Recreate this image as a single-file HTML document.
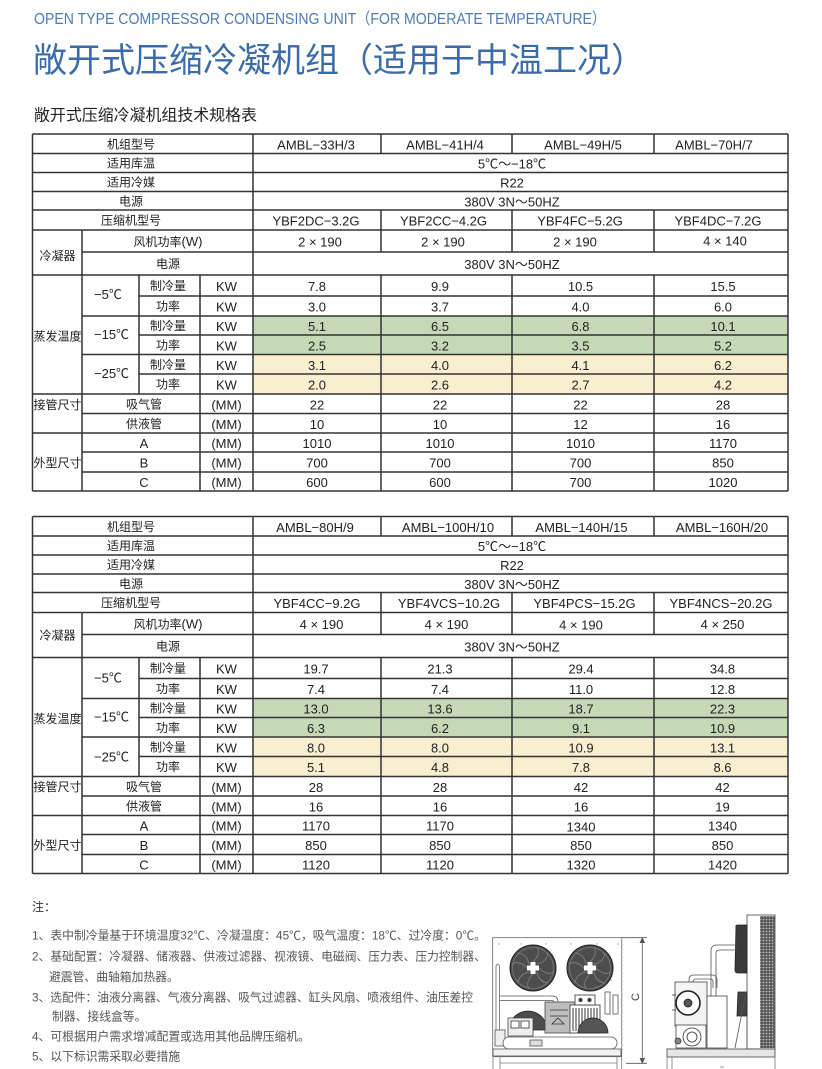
<!DOCTYPE html>
<html><head><meta charset="utf-8">
<style>
html,body{margin:0;padding:0;background:#fff;}
svg{display:block;}
text{font-family:"Liberation Sans","Noto Sans CJK SC",sans-serif;}
.l{font-size:13px;fill:#222;text-anchor:middle;}
.c{font-size:12px;fill:#222;text-anchor:middle;}
.s{font-size:13px;fill:#222;}
.n{font-size:11.8px;fill:#555;}
</style></head><body>
<svg width="822" height="1069" viewBox="0 0 822 1069" xmlns="http://www.w3.org/2000/svg">
<defs>
<g id="grid">
<rect x="253" y="316" width="535" height="38.5" fill="#c5d9b6"/>
<rect x="253" y="354.5" width="535" height="39.5" fill="#f8eed0"/>
<g stroke="#333" stroke-width="1.5" fill="none">
<path d="M32.5 134H788M32.5 153.5H788M32.5 172.5H788M32.5 191.5H788M32.5 210H788M32.5 230H788M82 252H788M32.5 275H788M139 296H788M82 316H788M139 335H788M82 354.5H788M139 374H788M32.5 394H788M82 413.5H788M32.5 433H788M82 452H788M82 472H788M32.5 491H788"/>
<path d="M32.5 134V491M82 230V491M139 275V394M200 275V491M253 134V491M788 134V491"/>
<path d="M381 134V153.5M381 210V252M381 275V491M512 134V153.5M512 210V252M512 275V491M654 134V153.5M654 210V252M654 275V491"/>
</g>
</g>
<pattern id="hx" width="3" height="3" patternUnits="userSpaceOnUse"><rect width="3" height="3" fill="#555"/><circle cx="1.5" cy="1.5" r="0.9" fill="#bbb"/></pattern>
<g id="fan">
<circle r="23" fill="#4d4d4d" stroke="#222" stroke-width="1"/>
<circle r="20.5" fill="none" stroke="#888" stroke-width="0.6"/>
<path d="M0 -6Q8 -14 4 -21M6 0Q14 8 21 4M0 6Q-8 14 -4 21M-6 0Q-14 -8 -21 -4M4 -4Q14 -6 15 -15M4 4Q6 14 15 15M-4 4Q-14 6 -15 15M-4 -4Q-6 -14 -15 -15" stroke="#8a8a8a" stroke-width="0.7" fill="none"/>
<path d="M-2.5 -6h5v3.5h3.5v5h-3.5v3.5h-5v-3.5h-3.5v-5h3.5z" fill="#fff"/>
</g>
</defs>
<rect width="822" height="1069" fill="#fff"/>

<text x="34" y="24" font-size="16" fill="#4d7cb5" textLength="572" lengthAdjust="spacingAndGlyphs">OPEN TYPE COMPRESSOR CONDENSING UNIT（FOR MODERATE TEMPERATURE）</text>
<text x="33" y="72" font-size="34" fill="#3b6ca8" textLength="612" lengthAdjust="spacingAndGlyphs">敞开式压缩冷凝机组（适用于中温工况）</text>
<text x="34" y="120.5" font-size="16" fill="#222" textLength="223" lengthAdjust="spacingAndGlyphs">敞开式压缩冷凝机组技术规格表</text>

<!-- TABLE 1 -->
<use href="#grid"/>
<g>
<text class="c" x="131" y="148.5">机组型号</text>
<text class="l" x="316" y="149.5">AMBL−33H/3</text>
<text class="l" x="445" y="149.5">AMBL−41H/4</text>
<text class="l" x="583" y="149.5">AMBL−49H/5</text>
<text class="l" x="714" y="149.5">AMBL−70H/7</text>
<text class="c" x="131" y="167.5">适用库温</text>
<text class="l" x="512" y="168.5">5℃～−18℃</text>
<text class="c" x="131" y="186.5">适用冷媒</text>
<text class="l" x="512" y="187.5">R22</text>
<text class="c" x="131" y="205.5">电源</text>
<text class="l" x="512" y="206.5">380V 3N～50HZ</text>
<text class="c" x="131" y="224.5">压缩机型号</text>
<text class="l" x="316" y="225.5">YBF2DC−3.2G</text>
<text class="l" x="443.5" y="225.5">YBF2CC−4.2G</text>
<text class="l" x="580" y="225.5">YBF4FC−5.2G</text>
<text class="l" x="718" y="225.5">YBF4DC−7.2G</text>
<text class="c" x="57.5" y="260">冷凝器</text>
<text class="c" x="168" y="246"><tspan>风机功率</tspan><tspan font-size="13">(W)</tspan></text>
<text class="l" x="320" y="246.5">2 × 190</text>
<text class="l" x="443" y="246.5">2 × 190</text>
<text class="l" x="575" y="246.5">2 × 190</text>
<text class="l" x="725" y="245.5">4 × 140</text>
<text class="c" x="168" y="268">电源</text>
<text class="l" x="512" y="269">380V 3N～50HZ</text>
<text class="c" x="57.5" y="340.5">蒸发温度</text>
<text class="s" x="94" y="299">−5℃</text>
<text class="s" x="94" y="339">−15℃</text>
<text class="s" x="94" y="378">−25℃</text>
<text class="c" x="168" y="290">制冷量</text>
<text class="c" x="168" y="310.5">功率</text>
<text class="c" x="168" y="329.8">制冷量</text>
<text class="c" x="168" y="349.3">功率</text>
<text class="c" x="168" y="368.8">制冷量</text>
<text class="c" x="168" y="388.5">功率</text>
<text class="l" x="226.5" y="291">KW</text>
<text class="l" x="226.5" y="311.5">KW</text>
<text class="l" x="226.5" y="330.8">KW</text>
<text class="l" x="226.5" y="350.3">KW</text>
<text class="l" x="226.5" y="369.8">KW</text>
<text class="l" x="226.5" y="389.5">KW</text>
<text class="c" x="57.5" y="409">接管尺寸</text>
<text class="c" x="144" y="408.3">吸气管</text>
<text class="c" x="144" y="427.8">供液管</text>
<text class="c" x="57.5" y="467">外型尺寸</text>
<text class="l" x="144" y="448">A</text>
<text class="l" x="144" y="467.5">B</text>
<text class="l" x="144" y="487">C</text>
<text class="l" x="226.5" y="409.3">(MM)</text>
<text class="l" x="226.5" y="428.8">(MM)</text>
<text class="l" x="226.5" y="448">(MM)</text>
<text class="l" x="226.5" y="467.5">(MM)</text>
<text class="l" x="226.5" y="487">(MM)</text>
<!-- values -->
<text class="l" x="317" y="291">7.8</text><text class="l" x="440" y="291">9.9</text><text class="l" x="580.5" y="291">10.5</text><text class="l" x="723" y="291">15.5</text>
<text class="l" x="317" y="311.5">3.0</text><text class="l" x="440" y="311.5">3.7</text><text class="l" x="580.5" y="311.5">4.0</text><text class="l" x="723" y="311.5">6.0</text>
<text class="l" x="317" y="330.8">5.1</text><text class="l" x="440" y="330.8">6.5</text><text class="l" x="580.5" y="330.8">6.8</text><text class="l" x="723" y="330.8">10.1</text>
<text class="l" x="317" y="350.3">2.5</text><text class="l" x="440" y="350.3">3.2</text><text class="l" x="580.5" y="350.3">3.5</text><text class="l" x="723" y="350.3">5.2</text>
<text class="l" x="317" y="369.8">3.1</text><text class="l" x="440" y="369.8">4.0</text><text class="l" x="580.5" y="369.8">4.1</text><text class="l" x="723" y="369.8">6.2</text>
<text class="l" x="317" y="389.5">2.0</text><text class="l" x="440" y="389.5">2.6</text><text class="l" x="580.5" y="389.5">2.7</text><text class="l" x="723" y="389.5">4.2</text>
<text class="l" x="317" y="409.3">22</text><text class="l" x="440" y="409.3">22</text><text class="l" x="580.5" y="409.3">22</text><text class="l" x="723" y="409.3">28</text>
<text class="l" x="317" y="428.8">10</text><text class="l" x="440" y="428.8">10</text><text class="l" x="580.5" y="428.8">12</text><text class="l" x="723" y="428.8">16</text>
<text class="l" x="317" y="448">1010</text><text class="l" x="440" y="448">1010</text><text class="l" x="580.5" y="448">1010</text><text class="l" x="723" y="448">1170</text>
<text class="l" x="317" y="467.5">700</text><text class="l" x="440" y="467.5">700</text><text class="l" x="580.5" y="467.5">700</text><text class="l" x="723" y="467.5">850</text>
<text class="l" x="317" y="487">600</text><text class="l" x="440" y="487">600</text><text class="l" x="580.5" y="487">700</text><text class="l" x="723" y="487">1020</text>
</g>

<!-- TABLE 2 -->
<g transform="translate(0,382.5)">
<use href="#grid"/>
<text class="c" x="131" y="148.5">机组型号</text>
<text class="l" x="315" y="149.5">AMBL−80H/9</text>
<text class="l" x="448" y="149.5">AMBL−100H/10</text>
<text class="l" x="581.5" y="149.5">AMBL−140H/15</text>
<text class="l" x="722" y="149.5">AMBL−160H/20</text>
<text class="c" x="131" y="167.5">适用库温</text>
<text class="l" x="512" y="168.5">5℃～−18℃</text>
<text class="c" x="131" y="186.5">适用冷媒</text>
<text class="l" x="512" y="187.5">R22</text>
<text class="c" x="131" y="205.5">电源</text>
<text class="l" x="512" y="206.5">380V 3N～50HZ</text>
<text class="c" x="131" y="224.5">压缩机型号</text>
<text class="l" x="317" y="225.5">YBF4CC−9.2G</text>
<text class="l" x="449" y="225.5">YBF4VCS−10.2G</text>
<text class="l" x="584.5" y="225.5">YBF4PCS−15.2G</text>
<text class="l" x="721" y="225.5">YBF4NCS−20.2G</text>
<text class="c" x="57.5" y="257">冷凝器</text>
<text class="c" x="168" y="246"><tspan>风机功率</tspan><tspan font-size="13">(W)</tspan></text>
<text class="l" x="321.5" y="246.5">4 × 190</text>
<text class="l" x="446.5" y="246.5">4 × 190</text>
<text class="l" x="581" y="247">4 × 190</text>
<text class="l" x="722.5" y="246.5">4 × 250</text>
<text class="c" x="168" y="268">电源</text>
<text class="l" x="512" y="269">380V 3N～50HZ</text>
<text class="c" x="57.5" y="340.5">蒸发温度</text>
<text class="s" x="94" y="300">−5℃</text>
<text class="s" x="94" y="339">−15℃</text>
<text class="s" x="94" y="379">−25℃</text>
<text class="c" x="168" y="290">制冷量</text>
<text class="c" x="168" y="310.5">功率</text>
<text class="c" x="168" y="329.8">制冷量</text>
<text class="c" x="168" y="349.3">功率</text>
<text class="c" x="168" y="368.8">制冷量</text>
<text class="c" x="168" y="388.5">功率</text>
<text class="l" x="226.5" y="291">KW</text>
<text class="l" x="226.5" y="311.5">KW</text>
<text class="l" x="226.5" y="330.8">KW</text>
<text class="l" x="226.5" y="350.3">KW</text>
<text class="l" x="226.5" y="369.8">KW</text>
<text class="l" x="226.5" y="389.5">KW</text>
<text class="c" x="57.5" y="408.5">接管尺寸</text>
<text class="c" x="144" y="408.3">吸气管</text>
<text class="c" x="144" y="427.8">供液管</text>
<text class="c" x="57.5" y="467">外型尺寸</text>
<text class="l" x="144" y="448">A</text>
<text class="l" x="144" y="467.5">B</text>
<text class="l" x="144" y="487">C</text>
<text class="l" x="226.5" y="409.3">(MM)</text>
<text class="l" x="226.5" y="428.8">(MM)</text>
<text class="l" x="226.5" y="448">(MM)</text>
<text class="l" x="226.5" y="467.5">(MM)</text>
<text class="l" x="226.5" y="487">(MM)</text>
<text class="l" x="316" y="291">19.7</text><text class="l" x="440" y="291">21.3</text><text class="l" x="581" y="291">29.4</text><text class="l" x="722.5" y="291">34.8</text>
<text class="l" x="316" y="311.5">7.4</text><text class="l" x="440" y="311.5">7.4</text><text class="l" x="581" y="311.5">11.0</text><text class="l" x="722.5" y="311.5">12.8</text>
<text class="l" x="316" y="330.8">13.0</text><text class="l" x="440" y="330.8">13.6</text><text class="l" x="581" y="330.8">18.7</text><text class="l" x="722.5" y="330.8">22.3</text>
<text class="l" x="316" y="350.3">6.3</text><text class="l" x="440" y="350.3">6.2</text><text class="l" x="581" y="350.3">9.1</text><text class="l" x="722.5" y="350.3">10.9</text>
<text class="l" x="316" y="369.8">8.0</text><text class="l" x="440" y="369.8">8.0</text><text class="l" x="581" y="369.8">10.9</text><text class="l" x="722.5" y="369.8">13.1</text>
<text class="l" x="316" y="389.5">5.1</text><text class="l" x="440" y="389.5">4.8</text><text class="l" x="581" y="389.5">7.8</text><text class="l" x="722.5" y="389.5">8.6</text>
<text class="l" x="316" y="409.3">28</text><text class="l" x="440" y="409.3">28</text><text class="l" x="581" y="409.3">42</text><text class="l" x="722.5" y="409.3">42</text>
<text class="l" x="316" y="428.8">16</text><text class="l" x="440" y="428.8">16</text><text class="l" x="581" y="428.8">16</text><text class="l" x="722.5" y="428.8">19</text>
<text class="l" x="316" y="448">1170</text><text class="l" x="440" y="448">1170</text><text class="l" x="581" y="449">1340</text><text class="l" x="722.5" y="448">1340</text>
<text class="l" x="316" y="467.5">850</text><text class="l" x="440" y="467.5">850</text><text class="l" x="581" y="467.5">850</text><text class="l" x="722.5" y="467.5">850</text>
<text class="l" x="316" y="487">1120</text><text class="l" x="440" y="487">1120</text><text class="l" x="581" y="487">1320</text><text class="l" x="722.5" y="487">1420</text>
</g>

<!-- NOTES -->
<text x="32" y="911" font-size="12" fill="#333">注：</text>
<text class="n" x="32" y="939.5" textLength="454" lengthAdjust="spacingAndGlyphs">1、表中制冷量基于环境温度32℃、冷凝温度：45℃，吸气温度：18℃、过冷度：0℃。</text>
<text class="n" x="32" y="960.5" textLength="454" lengthAdjust="spacingAndGlyphs">2、基础配置：冷凝器、储液器、供液过滤器、视液镜、电磁阀、压力表、压力控制器、</text>
<text class="n" x="49" y="981">避震管、曲轴箱加热器。</text>
<text class="n" x="32" y="1001.5" textLength="441" lengthAdjust="spacingAndGlyphs">3、选配件：油液分离器、气液分离器、吸气过滤器、缸头风扇、喷液组件、油压差控</text>
<text class="n" x="52" y="1020.5">制器、接线盒等。</text>
<text class="n" x="32" y="1040.5">4、可根据用户需求增减配置或选用其他品牌压缩机。</text>
<text class="n" x="32" y="1060.5">5、以下标识需采取必要措施</text>

<!-- FRONT VIEW DRAWING -->
<g stroke="#555" stroke-width="0.8" fill="none">
<rect x="492.7" y="937.7" width="129" height="119" fill="#fff" stroke="#666"/>
<path d="M622 940V1052" stroke="#999" stroke-dasharray="2 2"/>
<path d="M496 966V1042M499.5 966V1042" stroke="#666"/>
<path d="M496 966Q497.5 962 499.5 966" stroke="#666"/>
<path d="M500 996H552M500 1000.5H552" stroke="#555"/>
<path d="M552 996Q558 996 558 1002M552 1000.5Q554 1000.5 554 1003"/>
<rect x="495" y="1030" width="10" height="16" fill="#eee"/>
<path d="M509 1030A19 19 0 0 1 547 1030Z" fill="#4d4d4d" stroke="#222"/>
<rect x="508" y="1018" width="25" height="18" fill="#eee" stroke="#444"/>
<rect x="511" y="1021" width="8" height="7" fill="#fff" stroke="#333"/>
<rect x="521" y="1021" width="8" height="7" fill="#fff" stroke="#333"/>
<rect x="545" y="1002" width="30" height="31" fill="#bdbdbd" stroke="#444"/>
<path d="M550 1010h18M550 1016h18M552 1024l6 -6 6 6z" stroke="#333"/>
<rect x="570" y="1005" width="30" height="28" fill="#fff" stroke="#333"/>
<path d="M573 1008V1031M576 1008V1031M579 1008V1031M582 1008V1031M585 1008V1031M588 1008V1031M591 1008V1031M594 1008V1031M597 1008V1031" stroke="#333" stroke-width="1"/>
<rect x="575" y="995" width="20" height="10" fill="#fff" stroke="#333"/>
<circle cx="580.5" cy="1000" r="1.8" fill="#333"/><circle cx="589.5" cy="1000" r="1.8" fill="#333"/>
<path d="M578 1033A15 15 0 0 1 608 1033Z" fill="#555" stroke="#222"/>
<rect x="605" y="992" width="5" height="22" fill="#fff" stroke="#555"/>
<rect x="613" y="995" width="5" height="19" fill="#fff" stroke="#555"/>
<rect x="503" y="1037" width="114" height="12" rx="6" fill="#fff" stroke="#555"/>
<rect x="530" y="1040" width="12" height="6" fill="#ddd" stroke="#555"/>
<rect x="493" y="1049" width="128" height="7" fill="#f2f2f2" stroke="#555"/>
<path d="M500 1063H617M493 1056V1069M500 1056V1069M617 1056V1069M621.7 1056V1069" stroke="#777"/>
<path d="M498 944h2M520 944h2M545 944h2M570 944h2M596 944h2M617 944h2M545 980h2M545 996h2M610 980h2" stroke="#999"/>
</g>
<use href="#fan" transform="translate(533,968)"/>
<use href="#fan" transform="translate(590,968)"/>
<g stroke="#555" stroke-width="0.8" fill="none">
<path d="M622 937.7H647M626 1063.3H647M642.3 938V1063" />
<path d="M640 943L642.3 938L644.6 943M640 1058L642.3 1063L644.6 1058" fill="#555"/>
</g>
<text x="0" y="0" font-size="11" fill="#444" text-anchor="middle" transform="translate(639,997) rotate(-90)">C</text>

<!-- SIDE VIEW DRAWING -->
<g stroke="#444" stroke-width="0.8" fill="none">
<rect x="747" y="915" width="28" height="134" fill="#fff" stroke="#444"/>
<rect x="760" y="916" width="14.5" height="132" fill="url(#hx)" stroke="none"/>
<path d="M736 927Q735 925 738 925H747V973H738Q735 973 735 970Z" fill="#3a3a3a" stroke="#222"/>
<path d="M738 992H747V1016H737Z" fill="#444" stroke="#222"/>
<path d="M746 992L735 1048M747 1016V1049" stroke="#555"/>
<path d="M711 1000V951Q711 945 717 945H737M716 1000V953Q716 950 719 950H737" stroke="#555"/>
<path d="M689 986V980Q689 975 694 975H712Q717 975 717 980V988M693 986V982Q693 979 696 979H710Q713 979 713 982V988" stroke="#555"/>
<rect x="675" y="982" width="32" height="44" fill="#f4f4f4" stroke="#444"/>
<circle cx="688" cy="1003" r="12" fill="#fff" stroke="#222" stroke-width="1.6"/>
<circle cx="688" cy="1003" r="4" fill="#555" stroke="#222"/>
<path d="M672 995h4M672 1010h4" stroke="#333"/>
<rect x="707" y="996" width="20" height="52" fill="#fff" stroke="#444"/>
<rect x="676" y="1025" width="30" height="23" fill="#fff" stroke="#444"/>
<circle cx="692" cy="1037" r="9" fill="#fff" stroke="#333"/>
<circle cx="692" cy="1037" r="5" fill="#fff" stroke="#333"/>
<circle cx="678" cy="1041" r="3" fill="#888" stroke="#333"/>
<rect x="667" y="1049" width="108" height="8" fill="#e6e6e6" stroke="#444"/>
<path d="M667 1057V1069M672 1057V1069M775 1057V1069M720 1067h4" stroke="#777"/>
</g>
</svg>
</body></html>
